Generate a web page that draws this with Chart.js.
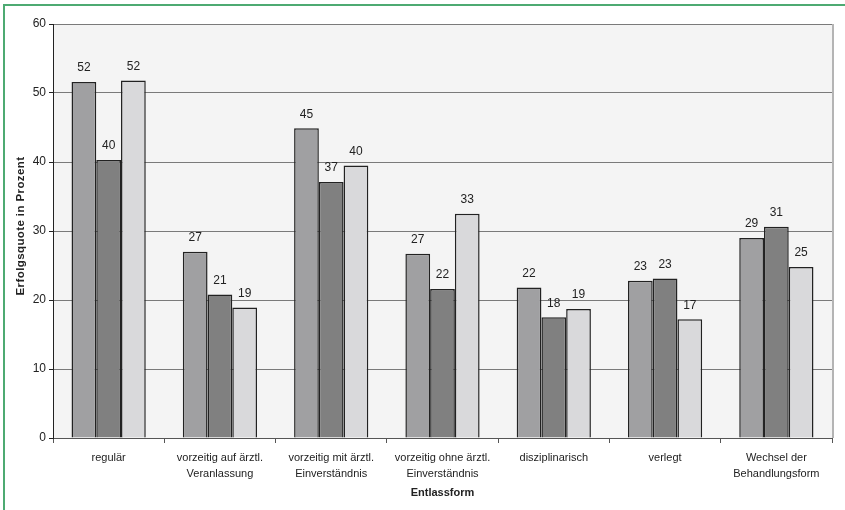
<!DOCTYPE html>
<html>
<head>
<meta charset="utf-8">
<script src="https://cdn.jsdelivr.net/npm/chart.js@4/dist/chart.umd.min.js"></script>
<style>
  html, body { margin: 0; padding: 0; background: #fff; }
  #wrap { position: relative; width: 845px; height: 510px; }
</style>
</head>
<body>
<div id="wrap"><canvas id="chart"></canvas></div>
<script>
// categories (Entlassform)
const categories = [
    'regulär',
    ['vorzeitig auf ärztl.', 'Veranlassung'],
    ['vorzeitig mit ärztl.', 'Einverständnis'],
    ['vorzeitig ohne ärztl.', 'Einverständnis'],
    'disziplinarisch',
    'verlegt',
    ['Wechsel der', 'Behandlungsform']
];

// Erfolgsquote in Prozent, three groups
const series1 = [51.6, 27.0, 44.9, 26.7, 21.8, 22.8, 29.0];
const series2 = [40.3, 20.8, 37.1, 21.6, 17.5, 23.1, 30.6];
const series3 = [51.8, 18.9, 39.5, 32.5, 18.7, 17.2, 24.8];

const yTicks = [0, 10, 20, 30, 40, 50, 60];
const yTitle = 'Erfolgsquote in Prozent';

const FONT = 'Liberation Sans, Arial, sans-serif';

// frame, plot background, plot border and y title
const framePlugin = {
    id: 'frame',
    beforeDraw(chart) {
        const ctx = chart.ctx;
        const a = chart.chartArea;
        ctx.save();
        ctx.fillStyle = '#f4f4f4';
        ctx.fillRect(a.left, a.top, a.right - a.left, a.bottom - a.top);
        ctx.strokeStyle = '#4daa72';
        ctx.lineWidth = 2;
        ctx.beginPath();
        ctx.moveTo(4, 510);
        ctx.lineTo(4, 5);
        ctx.lineTo(845, 5);
        ctx.stroke();
        ctx.restore();
    },
    afterDraw(chart) {
        const ctx = chart.ctx;
        const a = chart.chartArea;
        ctx.save();
        ctx.strokeStyle = '#b4b4b4';
        ctx.lineWidth = 2;
        ctx.beginPath();
        ctx.moveTo(a.right + 1, a.top);
        ctx.lineTo(a.right + 1, a.bottom);
        ctx.stroke();

        // y axis title, slightly spaced like the original
        ctx.translate(20.5, 226);
        ctx.rotate(-Math.PI / 2);
        ctx.font = 'bold 11.5px ' + FONT;
        ctx.letterSpacing = '0.4px';
        ctx.fillStyle = '#222';
        ctx.textAlign = 'center';
        ctx.textBaseline = 'middle';
        ctx.fillText(yTitle, 0, 0);
        ctx.restore();
    }
};

// value labels above bars
const valueLabels = {
    id: 'valueLabels',
    afterDatasetsDraw(chart) {
        const ctx = chart.ctx;
        ctx.save();
        ctx.font = '12px ' + FONT;
        ctx.fillStyle = '#222';
        ctx.textAlign = 'center';
        ctx.textBaseline = 'middle';
        chart.data.datasets.forEach((ds, i) => {
            chart.getDatasetMeta(i).data.forEach((bar, j) => {
                ctx.fillText(Math.round(ds.data[j]), bar.x, bar.y - 14);
            });
        });
        ctx.restore();
    }
};

new Chart(document.getElementById('chart'), {
    type: 'bar',
    data: {
        labels: categories,
        datasets: [
            { label: 'Gruppe 1', data: series1, backgroundColor: '#a0a0a2' },
            { label: 'Gruppe 2', data: series2, backgroundColor: '#808080' },
            { label: 'Gruppe 3', data: series3, backgroundColor: '#d9d9db' }
        ]
    },
    options: {
        responsive: true,
        maintainAspectRatio: false,
        animation: false,
        datasets: {
            bar: {
                borderColor: '#222',
                borderWidth: 1.5,
                categoryPercentage: 0.667,
                barPercentage: 1
            }
        },
        layout: { padding: { left: 0, right: 13, top: 24, bottom: 0 } },
        plugins: {
            legend: { display: false },
            tooltip: { enabled: false }
        },
        scales: {
            x: {
                afterFit: s => { s.height = 72; },
                grid: {
                    display: true,
                    drawOnChartArea: false,
                    offset: true,
                    color: '#555',
                    tickLength: 5
                },
                border: { color: '#555', width: 1 },
                ticks: {
                    color: '#222',
                    padding: 7,
                    maxRotation: 0,
                    autoSkip: false,
                    font: { family: FONT, size: 11, lineHeight: 1.45 }
                },
                title: {
                    display: true,
                    text: 'Entlassform',
                    color: '#222',
                    font: { family: FONT, size: 11, weight: 'bold' },
                    padding: { top: 0, bottom: 10 }
                }
            },
            y: {
                min: 0,
                max: 60,
                afterFit: s => { s.width = 53; },
                afterBuildTicks: s => { s.ticks = yTicks.map(v => ({ value: v })); },
                grid: {
                    color: '#7a7a7a',
                    tickColor: '#222',
                    tickLength: 4
                },
                border: { color: '#222', width: 1 },
                ticks: {
                    color: '#222',
                    padding: 3,
                    font: { family: FONT, size: 12 }
                }
            }
        }
    },
    plugins: [framePlugin, valueLabels]
});
</script>
</body>
</html>
